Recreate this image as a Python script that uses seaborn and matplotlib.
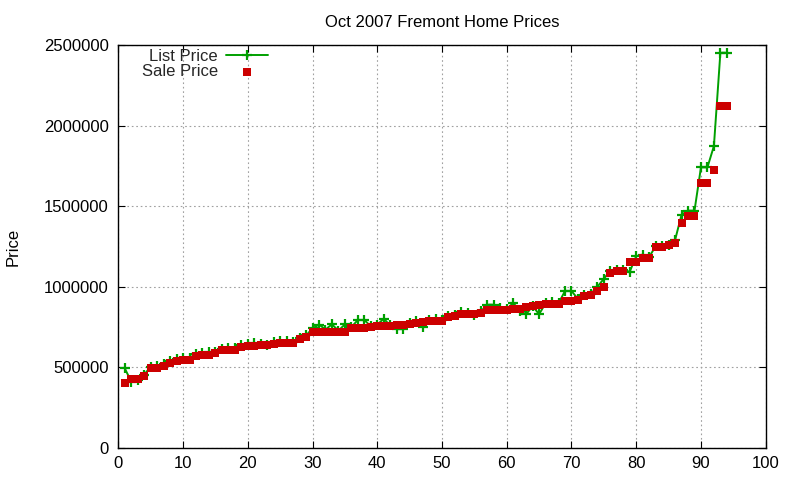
import numpy as np
import pandas as pd
import matplotlib
matplotlib.use("Agg")
import matplotlib.pyplot as plt
import seaborn as sns

# ---- data ----
sale_price = [
    403000, 428000, 428000, 449000, 498000, 498000, 510000, 529000, 538000, 549000,
    549000, 573000, 579000, 579000, 589000, 610000, 610000, 610000, 627000, 633000,
    633000, 637000, 637000, 647000, 651000, 651000, 651000, 676000, 689000, 720000,
    722000, 722000, 722000, 722000, 722000, 744000, 744000, 744000, 751000, 757000,
    757000, 757000, 763000, 763000, 771000, 777000, 784000, 790000, 790000, 790000,
    815000, 821000, 831000, 831000, 831000, 840000, 856000, 856000, 856000, 856000,
    864000, 864000, 873000, 879000, 887000, 893000, 893000, 893000, 914000, 914000,
    918000, 943000, 951000, 976000, 1001000, 1088000, 1098000, 1098000, 1154000, 1154000,
    1179000, 1179000, 1249000, 1249000, 1259000, 1274000, 1398000, 1439000, 1439000, 1646000,
    1646000, 1727000, 2122000, 2122000,
]
list_price = [
    494000, 412000, 420000, 455000, 505000, 510000, 522000, 540000, 552000, 556000,
    560000, 582000, 592000, 596000, 595000, 614000, 618000, 620000, 640000, 648000,
    650000, 645000, 640000, 658000, 662000, 666000, 656000, 682000, 698000, 742000,
    766000, 735000, 767000, 728000, 767000, 750000, 794000, 794000, 755000, 765000,
    802000, 760000, 738000, 740000, 775000, 785000, 752000, 795000, 800000, 792000,
    818000, 825000, 845000, 835000, 826000, 848000, 889000, 889000, 870000, 860000,
    901000, 850000, 830000, 880000, 830000, 898000, 905000, 898000, 974000, 974000,
    925000, 948000, 958000, 1000000, 1050000, 1100000, 1105000, 1102000, 1094000, 1190000,
    1200000, 1185000, 1252000, 1256000, 1262000, 1290000, 1447000, 1472000, 1472000, 1741000,
    1741000, 1873000, 2452000, 2452000,
]
house_index = list(range(1, len(sale_price) + 1))

title_text = "Oct 2007 Fremont Home Prices"
y_label = "Price"
x_ticks = list(range(0, 101, 10))
y_ticks = [0, 500000, 1000000, 1500000, 2000000, 2500000]

df = pd.DataFrame({"idx": house_index, "List Price": list_price, "Sale Price": sale_price})

sns.set_theme(style="white")
plt.rcParams["font.family"] = ["Liberation Sans", "DejaVu Sans"]
plt.rcParams["axes.unicode_minus"] = False

fig = plt.figure(figsize=(8, 4.8), dpi=100)
ax = fig.add_axes([118.3 / 800, 1 - 448 / 480, (765.7 - 118.3) / 800, (448 - 45) / 480])

green = "#00a000"
red = "#cc0000"

sns.lineplot(data=df, x="idx", y="List Price", ax=ax, color=green, linewidth=1.4,
             marker="+", markersize=7.5, markeredgewidth=1.6, markeredgecolor=green,
             label="List Price", zorder=3)
sns.scatterplot(data=df, x="idx", y="Sale Price", ax=ax, color=red, marker="s",
                s=28, linewidth=0, edgecolor=red, label="Sale Price", zorder=4)

ax.set_xlim(0, 100)
ax.set_ylim(0, 2500000)
ax.set_xticks(x_ticks)
ax.set_yticks(y_ticks)
ax.set_xticklabels([str(t) for t in x_ticks])
ax.set_yticklabels([str(t) for t in y_ticks])

ax.grid(True, color="#a0a0a0", linestyle=(0, (1.5, 2.5)), linewidth=0.8)
ax.set_axisbelow(True)
for sp in ax.spines.values():
    sp.set_visible(True)
    sp.set_color("black")
    sp.set_linewidth(1.0)

ax.tick_params(axis="both", which="major", direction="in", length=5, width=0.8,
               color="black", labelsize=12, labelcolor="black",
               top=True, right=True, bottom=True, left=True)
ax.tick_params(axis="x", pad=6)
ax.tick_params(axis="y", pad=7)

ax.set_xlabel("")
ax.set_ylabel(y_label, fontsize=12, color="black")
ax.yaxis.set_label_coords(-0.151, 0.5)
ax.set_title(title_text, fontsize=12, color="black", pad=13)

leg = ax.legend(loc="upper left", bbox_to_anchor=(0.0205, 1.0145), frameon=False,
                markerfirst=False, fontsize=12, handlelength=2.5, handletextpad=0.5,
                labelspacing=0.0, borderaxespad=0.2)

fig.savefig("out.png", dpi=100, facecolor="white")
